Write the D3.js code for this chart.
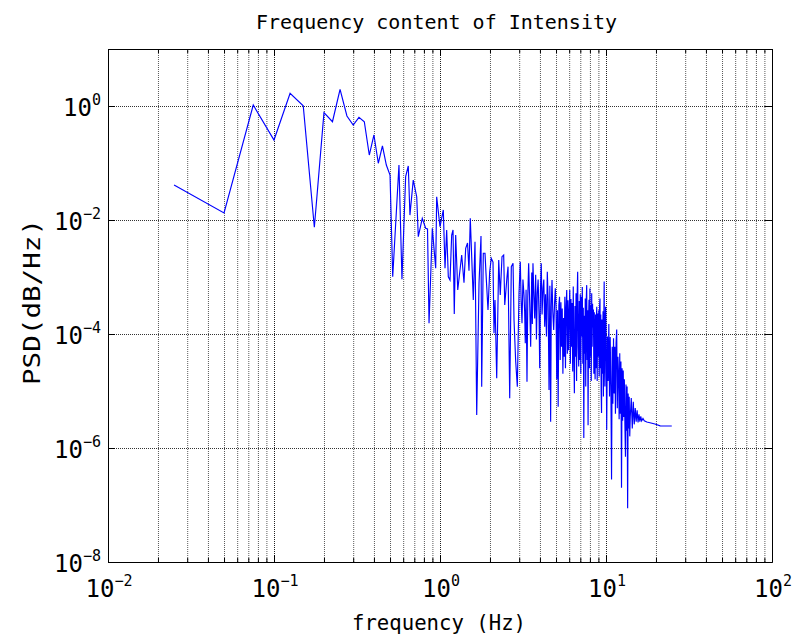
<!DOCTYPE html>
<html>
<head>
<meta charset="utf-8">
<script src="https://cdn.jsdelivr.net/npm/d3@7"></script>
<style>
body{margin:0;background:#fff;}
</style>
</head>
<body>
<script>
// values: frequency (Hz) and PSD
var freqLow = [0.025,0.05,0.075,0.1,0.125,0.15,0.175,0.2,0.225,0.25,0.275,0.3,0.325,0.35,0.375,0.4,0.425,0.45,0.475,0.5];
var psdLow = [4.1e-2,1.33e-2,1.04,0.253,1.67,1.01,7.45e-3,0.763,0.53,1.96,0.668,0.464,0.633,0.53,0.138,0.31,0.099,0.199,0.092,0.0616];

var freqMid = [0.519,0.566,0.590,0.621,0.644,0.659,0.690,0.724,0.740,0.782,
  0.820,0.841,0.859,0.899,0.942,0.955,1.0,1.047,1.072,1.097,
  1.122,1.149,1.176,1.198,1.219,1.243,1.279,1.351,1.395,1.428,
  1.465,1.495,1.522,1.587,1.625,1.664,1.718,1.766,1.783,1.823,
  1.867,1.892,1.946,1.992,2.037,2.086,2.115,2.145,2.196,2.258,
  2.307,2.363,2.419,2.455,2.533,2.570,2.630,2.689,2.754,2.792,
  2.858,2.923,2.992,3.046,3.08,3.119,3.16,3.206,3.235,3.264,
  3.30,3.342,3.38,3.42,3.47,3.517,3.57,3.60,3.631,3.68,
  3.72,3.77,3.81,3.855,3.90,3.95,3.987,4.03,4.074,4.12,
  4.174,4.22,4.273,4.32,4.38,4.43,4.48,4.537,4.59,4.64,
  4.68,4.729,4.78,4.84,4.90,4.95];
var psdMid = [1.01e-3,9.2e-2,9.12e-4,5.75e-2,8.86e-2,1.22e-2,5.03e-2,2.56e-2,5.09e-3,1.07e-2,
  7.15e-3,6.95e-3,1.54e-4,7.15e-3,1.42e-3,2.56e-2,7.63e-3,1.50e-2,1.42e-3,6.68e-3,
  1.01e-3,8.86e-4,5.46e-3,6.68e-3,2.24e-4,5.46e-3,5.91e-4,2.43e-3,7.94e-4,3.19e-3,
  3.95e-3,1.29e-3,1.07e-2,3.95e-4,4.16e-3,3.79e-6,7.75e-4,5.24e-3,1.19e-5,2.61e-3,
  2.61e-3,1.18e-3,2.64e-4,1.24e-3,2.13e-3,1.83e-3,1.03e-4,3.95e-4,1.67e-5,1.99e-3,
  4.83e-4,2.27e-3,2.43e-3,3.23e-4,1.01e-3,1.52e-3,7.45e-6,1.52e-3,1.74e-3,1.76e-4,
  3.27e-5,1.19e-5,5.18e-4,1.85e-3,4.0e-4,1.54e-4,9.0e-4,4.83e-4,2.5e-4,6.87e-5,
  6.0e-4,1.46e-5,4.5e-4,1.74e-3,3.5e-4,5.98e-5,1.2e-3,1.5e-4,1.74e-3,4.5e-4,
  1.88e-4,1.1e-3,8.0e-5,5.18e-4,9.0e-4,2.2e-4,2.50e-5,6.0e-4,1.74e-3,2.2e-4,
  6.34e-4,9.0e-4,1.34e-4,5.0e-4,9.0e-5,1.24e-3,4.0e-4,1.04e-5,7.0e-4,2.89e-6,
  3.0e-4,8.86e-4,2.5e-4,1.18e-4,3.5e-4,6.34e-4];

var freqHigh = [5.00,5.05,5.10,5.15,5.20,5.25,5.30,5.35,5.40,5.45,
  5.50,5.55,5.60,5.65,5.70,5.75,5.80,5.85,5.90,5.95,
  6.00,6.05,6.10,6.15,6.20,6.25,6.30,6.35,6.40,6.45,
  6.50,6.55,6.60,6.65,6.70,6.75,6.80,6.85,6.90,6.95,
  7.00,7.05,7.10,7.15,7.20,7.25,7.30,7.35,7.40,7.45,
  7.50,7.55,7.60,7.65,7.70,7.75,7.80,7.85,7.90,7.95,
  8.00,8.05,8.10,8.15,8.20,8.25,8.30,8.35,8.40,8.45,
  8.50,8.55,8.60,8.65,8.70,8.75,8.80,8.85,8.90,8.95,
  9.00,9.05,9.10,9.15,9.20,9.25,9.30,9.35,9.40,9.45,
  9.50,9.55,9.60,9.65,9.70,9.75,9.80,9.85,9.90,9.95,
  10.0,10.1,10.2,10.3,10.4,10.5,10.6,10.7,10.8,10.9,
  11.0,11.1,11.2,11.3,11.4,11.5,11.6,11.7,11.8,11.9,
  12.0,12.1,12.2,12.3,12.4,12.5,12.6,12.7,12.8,12.9,
  13.0,13.1,13.2,13.3,13.4,13.5,13.6,13.7,13.8,13.9,
  14.0,14.2,14.4,14.6,14.8,15.0,15.2,15.4,15.6,15.8,
  16.0,16.2,16.4,16.7,17.0,17.6,18.4,19.7,21.2,23.0,24.9];
var psdHigh = [3.0e-4,1.6e-5,2.6e-4,5.3e-6,3.2e-4,4.5e-4,3.5e-5,3.6e-4,6.0e-5,2.8e-4,
  2.0e-5,1.9e-4,4.0e-5,4.5e-4,2.5e-5,3.0e-4,5.9e-4,4.5e-5,3.9e-4,5.2e-5,
  2.4e-4,5.9e-4,3.0e-5,4.1e-4,6.0e-5,3.5e-4,2.2e-5,6.8e-4,5.0e-5,9.1e-6,
  3.1e-4,4.0e-5,5.2e-4,1.5e-5,4.4e-4,1.24e-3,6.0e-5,2.7e-5,3.8e-4,3.5e-5,
  5.0e-4,2.0e-5,4.5e-4,9.0e-5,6.7e-4,3.0e-5,2.9e-4,1.5e-6,2.1e-4,4.5e-5,
  4.2e-4,1.2e-5,3.6e-4,7.2e-4,3.5e-5,2.6e-4,2.5e-6,1.8e-4,4.0e-4,2.5e-5,
  6.3e-4,4.0e-5,3.2e-4,1.5e-5,5.2e-4,6.0e-5,3.4e-4,1.3e-4,2.7e-4,2.0e-5,
  2.4e-4,3.0e-5,1.6e-5,2.2e-4,2.5e-5,1.9e-4,3.0e-4,1.5e-5,2.3e-4,4.0e-5,
  5.2e-5,2.6e-4,1.8e-5,3.0e-4,4.2e-4,2.5e-5,2.2e-4,1.0e-5,4.1e-6,1.8e-4,
  2.0e-5,7.9e-5,2.5e-4,8.0e-6,1.6e-4,8.3e-4,3.5e-5,1.2e-5,1.5e-4,3.0e-4,
  1.2e-4,2.1e-6,9.0e-5,1.5e-5,1.5e-4,8.0e-6,8.9e-5,1.2e-5,2.8e-7,6.0e-5,
  6.0e-6,8.4e-5,9.0e-6,6.0e-5,4.0e-6,7.0e-5,1.2e-4,5.0e-6,4.0e-5,2.0e-5,
  3.2e-6,4.6e-5,4.0e-6,3.3e-5,2.0e-7,2.5e-5,3.0e-6,2.3e-5,3.5e-6,1.6e-5,
  2.5e-6,7.0e-7,1.3e-5,2.0e-6,1.2e-5,8.8e-8,9.0e-6,2.2e-6,7.9e-6,1.6e-6,
  3.5e-6,7.5e-6,2.2e-6,6.5e-6,2.6e-6,5.0e-6,2.9e-6,4.6e-6,2.8e-6,3.9e-6,
  2.9e-6,3.6e-6,3.0e-6,3.3e-6,3.0e-6,2.85e-6,2.78e-6,2.64e-6,2.45e-6,2.43e-6,2.43e-6];

var xTickExp = [-2,-1,0,1,2];
var yTickExp = [-8,-6,-4,-2,0];
var titleText = "Frequency content of Intensity";
var xLabelText = "frequency (Hz)";
var yLabelText = "PSD(dB/Hz)";

var svgWidth = 792, svgHeight = 636;
var margin = {top:49, right:20, bottom:74, left:108};
var width = svgWidth - margin.left - margin.right;
var height = svgHeight - margin.top - margin.bottom;
var font = "'DejaVu Sans Mono', 'Liberation Mono', monospace";

var svg = d3.select("body")
    .append("svg")
    .attr("width", svgWidth)
    .attr("height", svgHeight)
    .style("display","block");

var g = svg.append("g")
    .attr("transform","translate("+margin.left+","+margin.top+")");

var x = d3.scaleLog().domain([1e-2,1e2]).range([0,width]);
var y = d3.scaleLog().domain([1e-8,1e1]).range([height,0]);

var xMajor = xTickExp.map(function(e){ return Math.pow(10,e); });
var yMajor = yTickExp.map(function(e){ return Math.pow(10,e); });
var xMinor = [];
xTickExp.slice(0,-1).forEach(function(e){
  for (var m = 2; m < 10; m++) xMinor.push(m*Math.pow(10,e));
});

// dotted grid
function styleGrid(sel, color){
  sel.select(".domain").remove();
  sel.selectAll(".tick line")
    .attr("stroke", color)
    .attr("stroke-dasharray","1,1");
}
g.append("g")
  .attr("transform","translate(0,"+height+")")
  .call(d3.axisBottom(x).tickValues(xMinor).tickSize(-height).tickFormat(""))
  .call(styleGrid, "#5a5a5a");
g.append("g")
  .attr("transform","translate(0,"+height+")")
  .call(d3.axisBottom(x).tickValues(xMajor.slice(1,-1)).tickSize(-height).tickFormat(""))
  .call(styleGrid, "#222");
g.append("g")
  .call(d3.axisLeft(y).tickValues(yMajor.slice(1)).tickSize(-width).tickFormat(""))
  .call(styleGrid, "#333");

// data line
svg.append("clipPath").attr("id","plotClip")
  .append("rect").attr("width",width).attr("height",height);

var points = d3.zip(freqLow.concat(freqMid, freqHigh), psdLow.concat(psdMid, psdHigh));

var line = d3.line()
  .x(function(d){ return x(d[0]); })
  .y(function(d){ return y(d[1]); });

g.append("path")
  .datum(points)
  .attr("clip-path","url(#plotClip)")
  .attr("fill","none")
  .attr("stroke","#0000ff")
  .attr("stroke-width",1.15)
  .attr("d", line);

// box with inward ticks on every side
function styleAxis(sel){
  sel.select(".domain").attr("stroke","#000");
  sel.selectAll(".tick line").attr("stroke","#000");
  sel.selectAll(".tick text").remove();
}
var sides = [
  {ax:d3.axisBottom, sc:x, tr:"translate(0,"+height+")"},
  {ax:d3.axisTop, sc:x, tr:"translate(0,0)"},
  {ax:d3.axisLeft, sc:y, tr:"translate(0,0)"},
  {ax:d3.axisRight, sc:y, tr:"translate("+width+",0)"}
];
sides.forEach(function(s){
  var major = s.sc === x ? xMajor : yMajor;
  g.append("g").attr("transform",s.tr)
    .call(s.ax(s.sc).tickValues(major).tickSize(-7).tickSizeOuter(0))
    .call(styleAxis);
  if (s.sc === x){
    g.append("g").attr("transform",s.tr)
      .call(s.ax(s.sc).tickValues(xMinor).tickSize(-4).tickSizeOuter(0))
      .call(styleAxis);
  }
});

// tick labels 10^n
function powLabel(t, d){
  t.append("tspan").text("10");
  t.append("tspan").attr("dy",-11).style("font-size","15px")
    .text(String(d).replace("-","\u2212"));
}

g.selectAll(".xlab")
  .data(xTickExp)
  .enter()
  .append("text")
  .attr("class","xlab")
  .attr("x",function(d){ return x(Math.pow(10,d)) + 1; })
  .attr("y",height+35)
  .attr("text-anchor","middle")
  .style("font-family",font)
  .style("font-size","24px")
  .each(function(d){ powLabel(d3.select(this), d); });

g.selectAll(".ylab")
  .data(yTickExp)
  .enter()
  .append("text")
  .attr("class","ylab")
  .attr("x",-7)
  .attr("y",function(d){ return y(Math.pow(10,d)) + 10; })
  .attr("text-anchor","end")
  .style("font-family",font)
  .style("font-size","24px")
  .each(function(d){ powLabel(d3.select(this), d); });

// title and axis labels
svg.append("text")
  .attr("x",436.5)
  .attr("y",29)
  .attr("text-anchor","middle")
  .attr("textLength",361)
  .attr("lengthAdjust","spacingAndGlyphs")
  .style("font-family",font)
  .style("font-size","20px")
  .text(titleText);

svg.append("text")
  .attr("x",439)
  .attr("y",630)
  .attr("text-anchor","middle")
  .attr("textLength",174)
  .attr("lengthAdjust","spacingAndGlyphs")
  .style("font-family",font)
  .style("font-size","21px")
  .text(xLabelText);

svg.append("text")
  .attr("transform","translate(40,302) rotate(-90)")
  .attr("text-anchor","middle")
  .attr("textLength",166)
  .attr("lengthAdjust","spacingAndGlyphs")
  .style("font-family",font)
  .style("font-size","23px")
  .text(yLabelText);
</script>
</body>
</html>
